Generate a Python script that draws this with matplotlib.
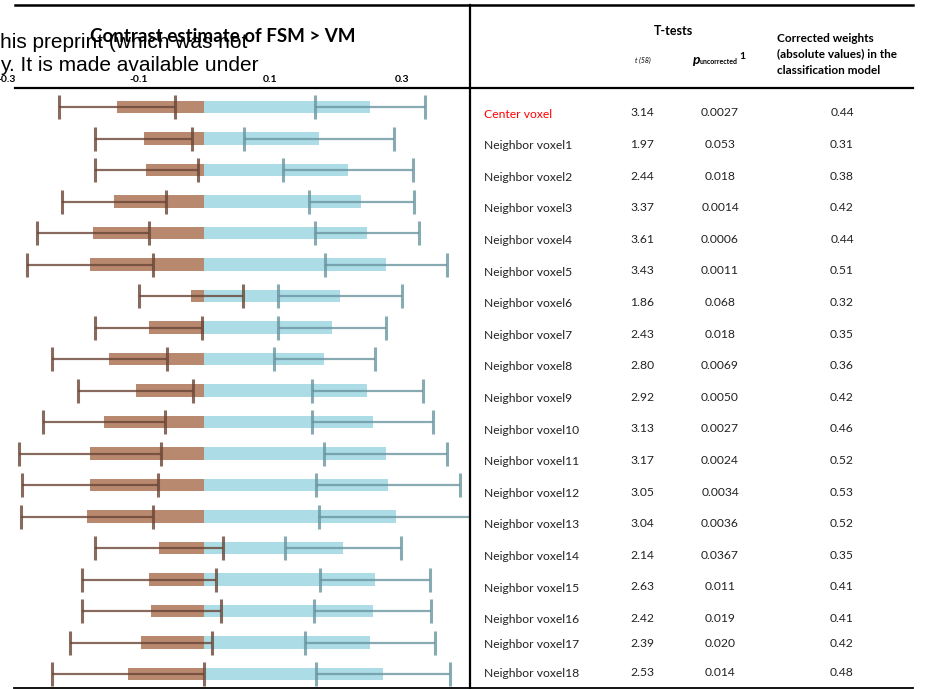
import matplotlib.pyplot as plt
import numpy as np

plt.rcParams["axes.unicode_minus"] = False

# contrast estimates (brown = negative part, blue = positive part) with error half-widths
neg = [-0.132, -0.092, -0.088, -0.137, -0.169, -0.173, -0.020, -0.084, -0.144, -0.104,
       -0.152, -0.173, -0.173, -0.177, -0.068, -0.084, -0.080, -0.096, -0.116]
neg_err = [0.088, 0.073, 0.078, 0.079, 0.085, 0.095, 0.079, 0.081, 0.087, 0.087,
           0.092, 0.107, 0.103, 0.100, 0.097, 0.102, 0.106, 0.107, 0.115]
pos = [0.251, 0.174, 0.218, 0.238, 0.247, 0.275, 0.206, 0.194, 0.182, 0.247,
       0.255, 0.275, 0.279, 0.291, 0.210, 0.259, 0.255, 0.251, 0.271]
pos_err = [0.083, 0.114, 0.098, 0.080, 0.079, 0.092, 0.094, 0.082, 0.077, 0.084,
           0.092, 0.093, 0.109, 0.117, 0.088, 0.083, 0.089, 0.099, 0.101]

# table
voxels = ["Center voxel"] + ["Neighbor voxel%d" % i for i in range(1, 19)]
t_vals = ["3.14", "1.97", "2.44", "3.37", "3.61", "3.43", "1.86", "2.43", "2.80", "2.92",
          "3.13", "3.17", "3.05", "3.04", "2.14", "2.63", "2.42", "2.39", "2.53"]
p_vals = ["0.0027", "0.053", "0.018", "0.0014", "0.0006", "0.0011", "0.068", "0.018", "0.0069",
          "0.0050", "0.0027", "0.0024", "0.0034", "0.0036", "0.0367", "0.011", "0.019", "0.020",
          "0.014"]
weights = ["0.44", "0.31", "0.38", "0.42", "0.44", "0.51", "0.32", "0.35", "0.36", "0.42",
           "0.46", "0.52", "0.53", "0.52", "0.35", "0.41", "0.41", "0.42", "0.48"]
xticks = [-0.3, -0.1, 0.1, 0.3]

W, H = 933, 689
fig = plt.figure(figsize=(W / 100, H / 100), dpi=100)

# bar panel
ax = fig.add_axes([0, 1 - 688 / H, 470 / W, 600 / H])
y = np.arange(len(neg))
ax.barh(y, neg, height=0.4, color="#b9896f", zorder=2)
ax.barh(y, pos, height=0.4, color="#acdce6", zorder=2)
ax.errorbar(neg, y, xerr=neg_err, fmt="none", ecolor="#6a4636", alpha=0.8,
            elinewidth=1.6, capsize=8.5, capthick=2.2, zorder=3)
ax.errorbar(pos, y, xerr=pos_err, fmt="none", ecolor="#6a95a0", alpha=0.8,
            elinewidth=1.6, capsize=8.5, capthick=2.2, zorder=3)
ax.set_xlim(-0.3095, 0.4026)
ax.set_ylim(18.44, -0.603)
ax.set_yticks([])
ax.set_xticks(xticks)
ax.set_xticklabels(["%.1f" % v for v in xticks], fontweight="bold", fontsize=7.5,
                   family="Lato")
ax.tick_params(axis="x", top=True, labeltop=True, bottom=False, labelbottom=False,
               length=0, pad=3)
for s in ax.spines.values():
    s.set_visible(False)

# overlay in pixel units for rules and table
lay = fig.add_axes([0, 0, 1, 1], zorder=5)
lay.set_xlim(0, W)
lay.set_ylim(H, 0)
lay.axis("off")
lay.patch.set_alpha(0)

lay.plot([15, 913], [5, 5], color="black", lw=1.8)
lay.plot([15, 913], [88, 88], color="black", lw=1.6)
lay.plot([14, 913], [688, 688], color="black", lw=1.3)
lay.plot([470, 470], [5, 689], color="black", lw=1.6)

lay.text(0, 48, "his preprint (which was not", fontsize=15, family="Liberation Sans",
         va="baseline", ha="left")
lay.text(0, 71, "y. It is made available under", fontsize=15, family="Liberation Sans",
         va="baseline", ha="left")
lay.text(223, 36, "Contrast estimate of FSM > VM", fontsize=13.5, fontweight="bold",
         family="Lato", ha="center", va="center")

lay.text(673, 31, "T-tests", fontsize=9, fontweight="bold", family="Lato",
         ha="center", va="center")
lay.text(643, 60, "t (58)", fontsize=5, style="italic", family="Lato",
         ha="center", va="center")
lay.text(692, 64, "p", fontsize=10, fontweight="bold", style="italic", family="Lato",
         ha="left", va="baseline")
lay.text(700, 64, "uncorrected", fontsize=5, fontweight="bold", family="Lato",
         ha="left", va="baseline")
lay.text(739, 59, "1", fontsize=7.5, fontweight="bold", family="Lato",
         ha="left", va="baseline")
for k, line in enumerate(["Corrected weights", "(absolute values) in the",
                          "classification model"]):
    lay.text(777, 38 + 16 * k, line, fontsize=8.5, fontweight="bold", family="Lato",
             ha="left", va="center")

row_pos = list(range(17)) + [16.8, 17.7]
for i in range(len(voxels)):
    yb = 116.5 + 31.6 * row_pos[i]
    lay.text(484.5, yb + 1, voxels[i], fontsize=8.7, family="Lato", va="baseline",
             color="red" if i == 0 else "#222222")
    lay.text(642, yb, t_vals[i], fontsize=8.7, family="Lato", va="baseline",
             ha="center", color="#222222")
    lay.text(720, yb, p_vals[i], fontsize=8.7, family="Lato", va="baseline",
             ha="center", color="#222222")
    lay.text(842, yb, weights[i], fontsize=8.7, family="Lato", va="baseline",
             ha="center", color="#222222")

fig.savefig("out.png", dpi=100)
